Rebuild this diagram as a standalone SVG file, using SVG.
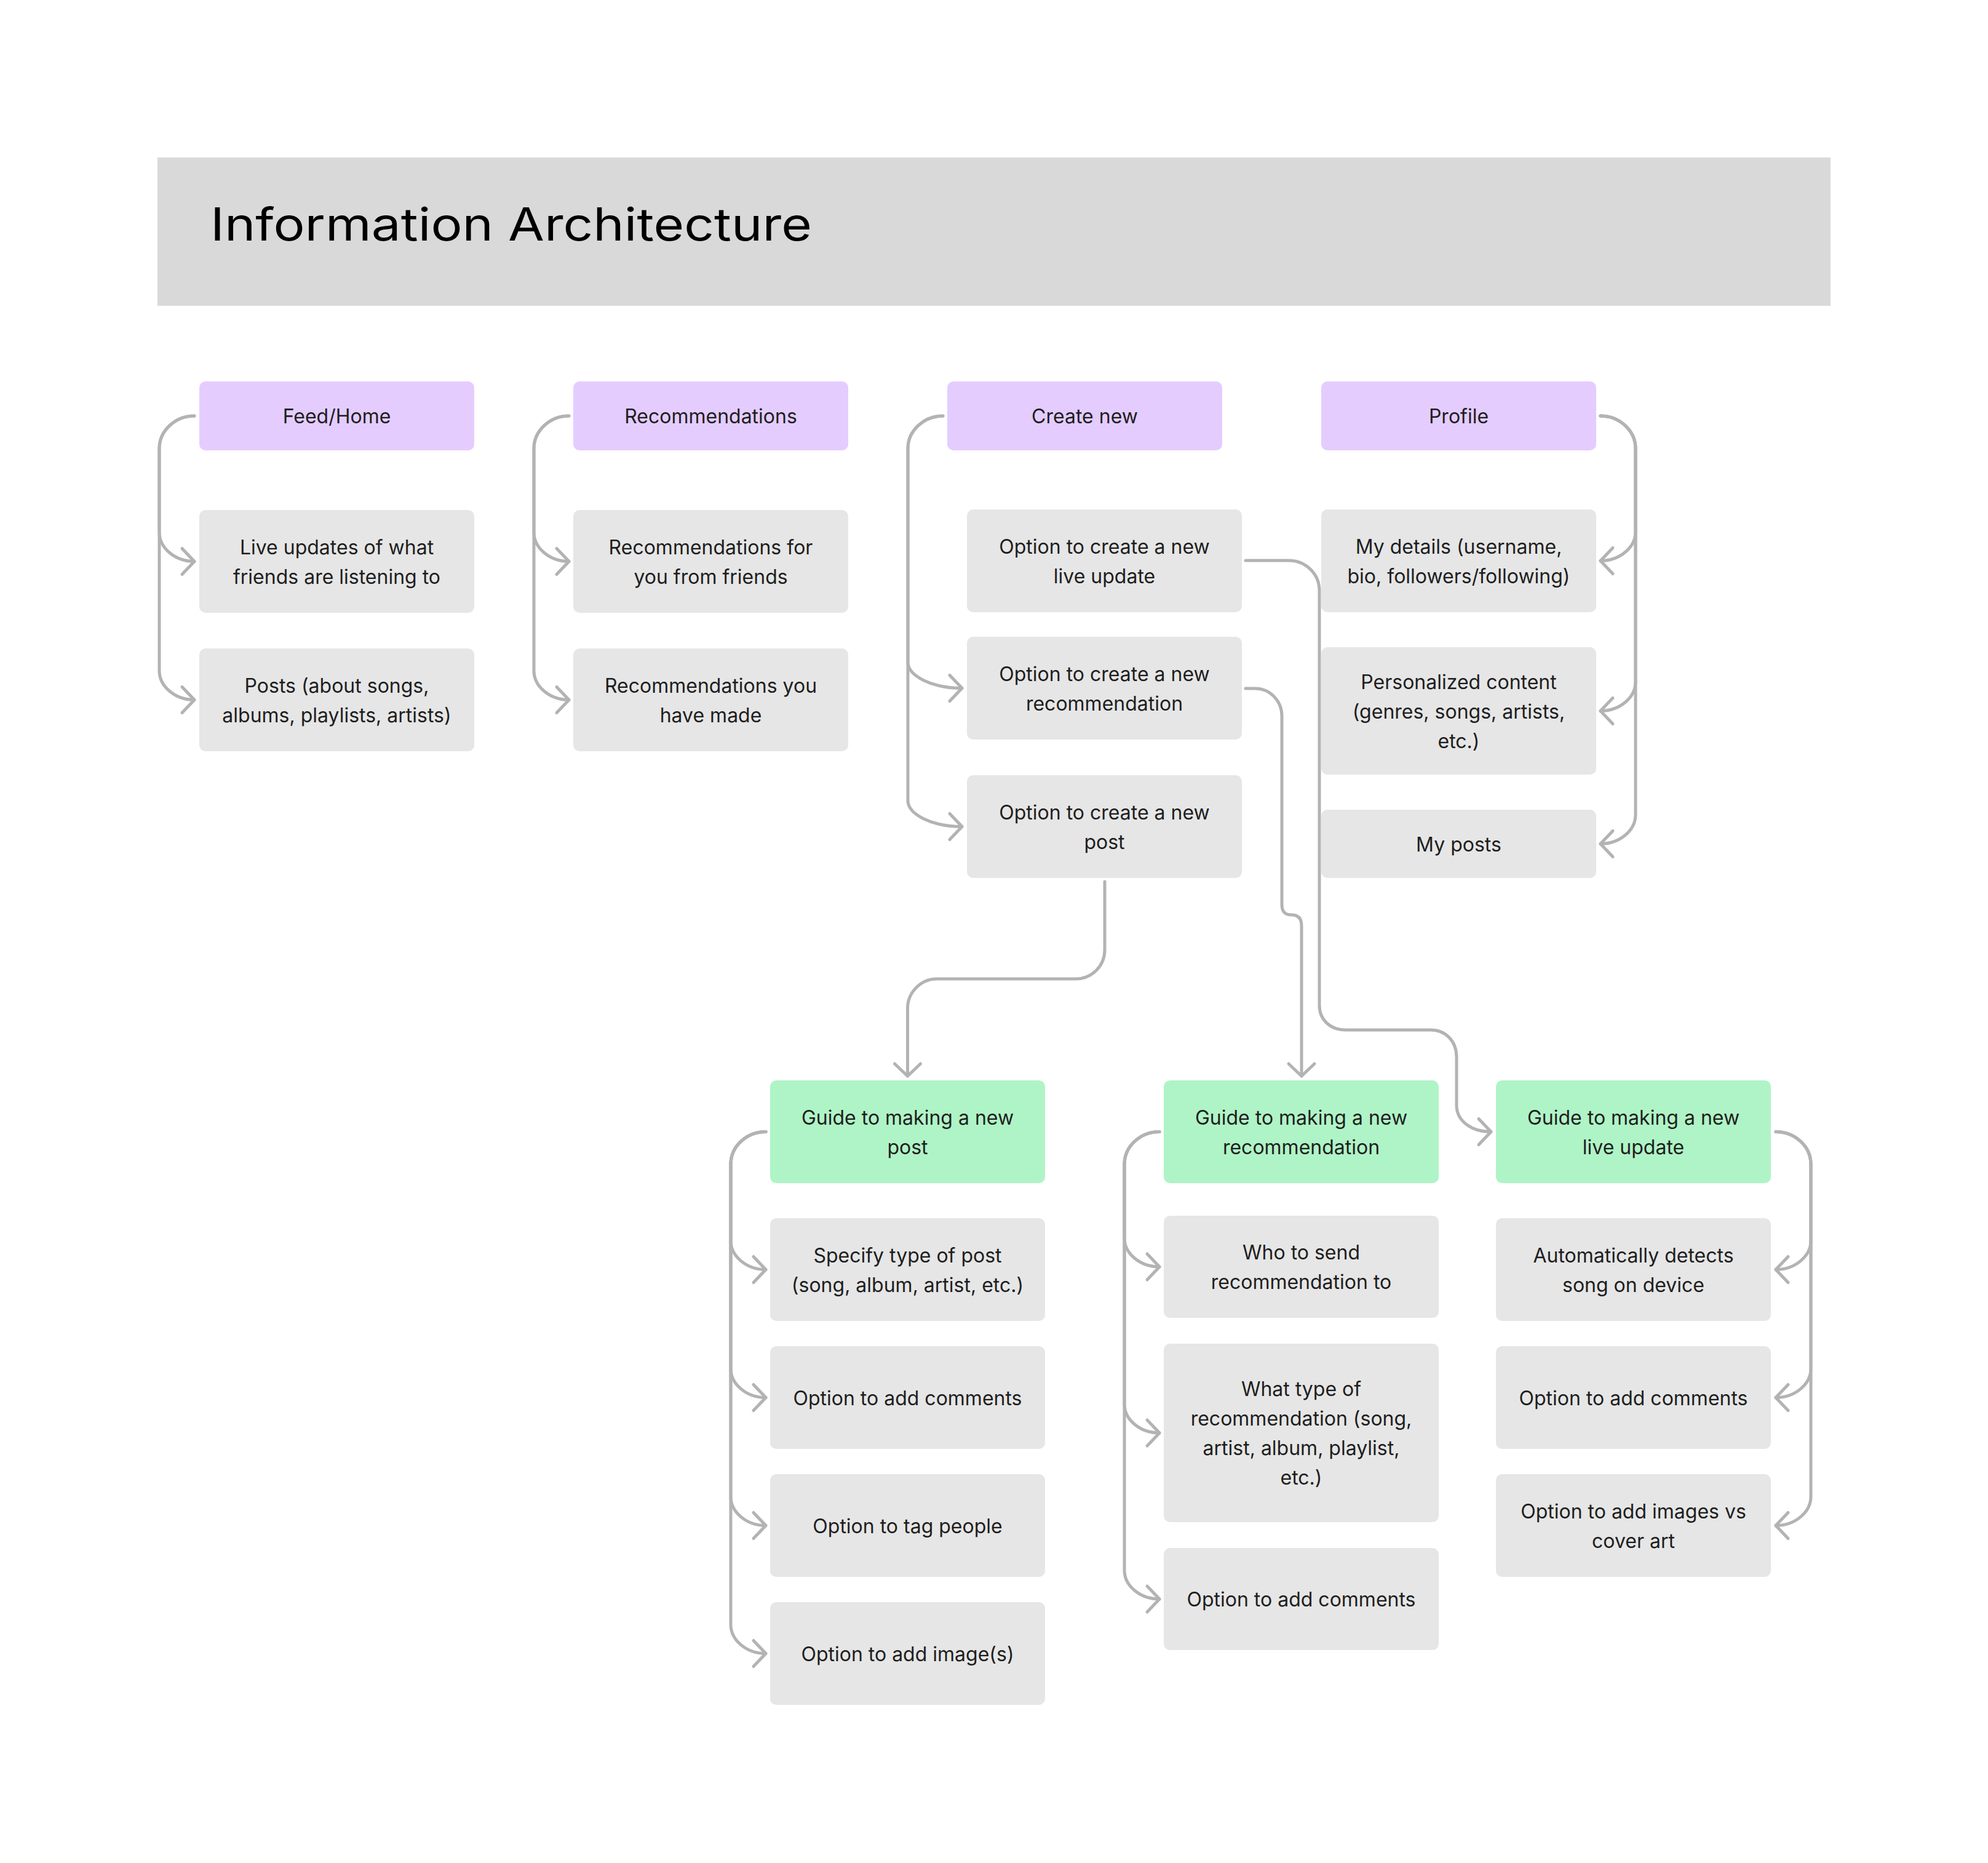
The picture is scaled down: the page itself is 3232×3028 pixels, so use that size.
<svg xmlns="http://www.w3.org/2000/svg" width="3232" height="3028" viewBox="0 0 3232 3028">
<style>
.bg{fill:#FFFFFF}
.bar{fill:#D9D9D9}
.title{font-family:Inter,"Liberation Sans",sans-serif;font-size:74px;fill:#000000}
.hd{fill:#E4CCFF}
.gd{fill:#AFF4C6}
.it{fill:#E6E6E6}
.t{font-family:Inter,"Liberation Sans",sans-serif;font-size:32px;fill:#1E1E1E;text-anchor:middle}
.c{fill:none;stroke:#B3B3B3;stroke-width:5;stroke-linecap:round;stroke-linejoin:round;marker-end:url(#ah)}
</style>
<defs>
<marker id="ah" markerUnits="userSpaceOnUse" viewBox="-30 -30 60 60" markerWidth="60" markerHeight="60" refX="0" refY="0" orient="auto" overflow="visible">
<path d="M-20,-21 L0,0 L-20,21" fill="none" stroke="#B3B3B3" stroke-width="5" stroke-linecap="round" stroke-linejoin="round"/>
</marker>
</defs>
<rect class="bg" x="0" y="0" width="3232" height="3028"/>
<g id="title">
<rect class="bar" x="256" y="256" width="2720" height="241"/>
<text class="title" x="342" y="391" textLength="978" lengthAdjust="spacingAndGlyphs">Information Architecture</text>
</g>
<g id="connectors">
<path class="c" d="M316,676 C285,676 259,700 259,729 L259,865 C259,891 285,912.5 316,912.5"/>
<path class="c" d="M316,676 C285,676 259,700 259,729 L259,1090 C259,1116 285,1137.5 316,1137.5"/>
<path class="c" d="M925,676 C894,676 868,700 868,729 L868,865 C868,891 894,912.5 925,912.5"/>
<path class="c" d="M925,676 C894,676 868,700 868,729 L868,1090 C868,1116 894,1137.5 925,1137.5"/>
<path class="c" d="M1533,676 C1502,676 1476,700 1476,729 L1476,1076 C1476,1099 1516,1118.5 1564,1118.5"/>
<path class="c" d="M1533,676 C1502,676 1476,700 1476,729 L1476,1301 C1476,1324 1516,1343.5 1564,1343.5"/>
<path class="c" d="M2602,676 C2633,676 2659,700 2659,729 L2659,864 C2659,890 2633,911.5 2602,911.5"/>
<path class="c" d="M2602,676 C2633,676 2659,700 2659,729 L2659,1108 C2659,1134 2633,1155.5 2602,1155.5"/>
<path class="c" d="M2602,676 C2633,676 2659,700 2659,729 L2659,1324 C2659,1350 2633,1371.5 2602,1371.5"/>
<path class="c" d="M1796,1433 L1796,1544 C1796,1570 1775,1591 1749,1591 L1523,1591 C1497,1591 1475.5,1613 1475.5,1639 L1475.5,1749"/>
<path class="c" d="M2025,1119 L2040,1119 C2065,1119 2084,1139 2084,1164 L2084,1470 C2084,1482 2089,1487 2100,1487 C2111,1487 2116,1493 2116,1505 L2116,1749"/>
<path class="c" d="M2025,911 L2095,911 C2123,911 2145,933 2145,960 L2145,1634 C2145,1657 2162,1674 2188,1674 L2326,1674 C2350,1674 2368,1692 2368,1718 L2368,1796 C2368,1822 2392,1839.5 2424,1839.5"/>
<path class="c" d="M1245,1839.5 C1214,1839.5 1188,1863 1188,1892.5 L1188,2016.5 C1188,2042 1214,2063.5 1245,2063.5"/>
<path class="c" d="M1245,1839.5 C1214,1839.5 1188,1863 1188,1892.5 L1188,2224.5 C1188,2250 1214,2271.5 1245,2271.5"/>
<path class="c" d="M1245,1839.5 C1214,1839.5 1188,1863 1188,1892.5 L1188,2432.5 C1188,2458 1214,2479.5 1245,2479.5"/>
<path class="c" d="M1245,1839.5 C1214,1839.5 1188,1863 1188,1892.5 L1188,2640.5 C1188,2666 1214,2687.5 1245,2687.5"/>
<path class="c" d="M1885,1839.5 C1854,1839.5 1828,1863 1828,1892.5 L1828,2012 C1828,2038 1854,2059 1885,2059"/>
<path class="c" d="M1885,1839.5 C1854,1839.5 1828,1863 1828,1892.5 L1828,2282 C1828,2308 1854,2329 1885,2329"/>
<path class="c" d="M1885,1839.5 C1854,1839.5 1828,1863 1828,1892.5 L1828,2552 C1828,2578 1854,2599 1885,2599"/>
<path class="c" d="M2887,1839.5 C2918,1839.5 2944,1863 2944,1892.5 L2944,2016.5 C2944,2042 2918,2063.5 2887,2063.5"/>
<path class="c" d="M2887,1839.5 C2918,1839.5 2944,1863 2944,1892.5 L2944,2224.5 C2944,2250 2918,2271.5 2887,2271.5"/>
<path class="c" d="M2887,1839.5 C2918,1839.5 2944,1863 2944,1892.5 L2944,2432.5 C2944,2458 2918,2479.5 2887,2479.5"/>
</g>
<g id="feed-home"><rect class="hd" x="324" y="620" width="447" height="112" rx="10"/><text class="t" x="547.5" y="688">Feed/Home</text></g>
<g id="recommendations"><rect class="hd" x="932" y="620" width="447" height="112" rx="10"/><text class="t" x="1155.5" y="688">Recommendations</text></g>
<g id="create-new"><rect class="hd" x="1540" y="620" width="447" height="112" rx="10"/><text class="t" x="1763.5" y="688">Create new</text></g>
<g id="profile"><rect class="hd" x="2148" y="620" width="447" height="112" rx="10"/><text class="t" x="2371.5" y="688">Profile</text></g>

<g id="live-updates"><rect class="it" x="324" y="829" width="447" height="167" rx="10"/><text class="t" x="547.5" y="900.5">Live updates of what</text><text class="t" x="547.5" y="948.5">friends are listening to</text></g>
<g id="posts"><rect class="it" x="324" y="1054" width="447" height="167" rx="10"/><text class="t" x="547.5" y="1125.5">Posts (about songs,</text><text class="t" x="547.5" y="1173.5">albums, playlists, artists)</text></g>

<g id="rec-for-you"><rect class="it" x="932" y="829" width="447" height="167" rx="10"/><text class="t" x="1155.5" y="900.5">Recommendations for</text><text class="t" x="1155.5" y="948.5">you from friends</text></g>
<g id="rec-made"><rect class="it" x="932" y="1054" width="447" height="167" rx="10"/><text class="t" x="1155.5" y="1125.5">Recommendations you</text><text class="t" x="1155.5" y="1173.5">have made</text></g>

<g id="opt-live"><rect class="it" x="1572" y="828" width="447" height="167" rx="10"/><text class="t" x="1795.5" y="899.5">Option to create a new</text><text class="t" x="1795.5" y="947.5">live update</text></g>
<g id="opt-rec"><rect class="it" x="1572" y="1035" width="447" height="167" rx="10"/><text class="t" x="1795.5" y="1106.5">Option to create a new</text><text class="t" x="1795.5" y="1154.5">recommendation</text></g>
<g id="opt-post"><rect class="it" x="1572" y="1260" width="447" height="167" rx="10"/><text class="t" x="1795.5" y="1331.5">Option to create a new</text><text class="t" x="1795.5" y="1379.5">post</text></g>

<g id="my-details"><rect class="it" x="2148" y="828" width="447" height="167" rx="10"/><text class="t" x="2371.5" y="899.5">My details (username,</text><text class="t" x="2371.5" y="947.5">bio, followers/following)</text></g>
<g id="personalized"><rect class="it" x="2148" y="1052" width="447" height="207" rx="10"/><text class="t" x="2371.5" y="1119.5">Personalized content</text><text class="t" x="2371.5" y="1167.5">(genres, songs, artists,</text><text class="t" x="2371.5" y="1215.5">etc.)</text></g>
<g id="my-posts"><rect class="it" x="2148" y="1316" width="447" height="111" rx="10"/><text class="t" x="2371.5" y="1383.5">My posts</text></g>

<g id="guide-post"><rect class="gd" x="1252" y="1756" width="447" height="167" rx="10"/><text class="t" x="1475.5" y="1827.5">Guide to making a new</text><text class="t" x="1475.5" y="1875.5">post</text></g>
<g id="guide-rec"><rect class="gd" x="1892" y="1756" width="447" height="167" rx="10"/><text class="t" x="2115.5" y="1827.5">Guide to making a new</text><text class="t" x="2115.5" y="1875.5">recommendation</text></g>
<g id="guide-live"><rect class="gd" x="2432" y="1756" width="447" height="167" rx="10"/><text class="t" x="2655.5" y="1827.5">Guide to making a new</text><text class="t" x="2655.5" y="1875.5">live update</text></g>

<g id="specify-type"><rect class="it" x="1252" y="1980" width="447" height="167" rx="10"/><text class="t" x="1475.5" y="2051.5">Specify type of post</text><text class="t" x="1475.5" y="2099.5">(song, album, artist, etc.)</text></g>
<g id="post-comments"><rect class="it" x="1252" y="2188" width="447" height="167" rx="10"/><text class="t" x="1475.5" y="2283.5">Option to add comments</text></g>
<g id="post-tag"><rect class="it" x="1252" y="2396" width="447" height="167" rx="10"/><text class="t" x="1475.5" y="2491.5">Option to tag people</text></g>
<g id="post-images"><rect class="it" x="1252" y="2604" width="447" height="167" rx="10"/><text class="t" x="1475.5" y="2699.5">Option to add image(s)</text></g>

<g id="who-to-send"><rect class="it" x="1892" y="1976" width="447" height="166" rx="10"/><text class="t" x="2115.5" y="2047">Who to send</text><text class="t" x="2115.5" y="2095">recommendation to</text></g>
<g id="what-type"><rect class="it" x="1892" y="2184" width="447" height="290" rx="10"/><text class="t" x="2115.5" y="2269">What type of</text><text class="t" x="2115.5" y="2317">recommendation (song,</text><text class="t" x="2115.5" y="2365">artist, album, playlist,</text><text class="t" x="2115.5" y="2413">etc.)</text></g>
<g id="rec-comments"><rect class="it" x="1892" y="2516" width="447" height="166" rx="10"/><text class="t" x="2115.5" y="2611">Option to add comments</text></g>

<g id="auto-detect"><rect class="it" x="2432" y="1980" width="447" height="167" rx="10"/><text class="t" x="2655.5" y="2051.5">Automatically detects</text><text class="t" x="2655.5" y="2099.5">song on device</text></g>
<g id="live-comments"><rect class="it" x="2432" y="2188" width="447" height="167" rx="10"/><text class="t" x="2655.5" y="2283.5">Option to add comments</text></g>
<g id="live-images"><rect class="it" x="2432" y="2396" width="447" height="167" rx="10"/><text class="t" x="2655.5" y="2467.5">Option to add images vs</text><text class="t" x="2655.5" y="2515.5">cover art</text></g>
</svg>
